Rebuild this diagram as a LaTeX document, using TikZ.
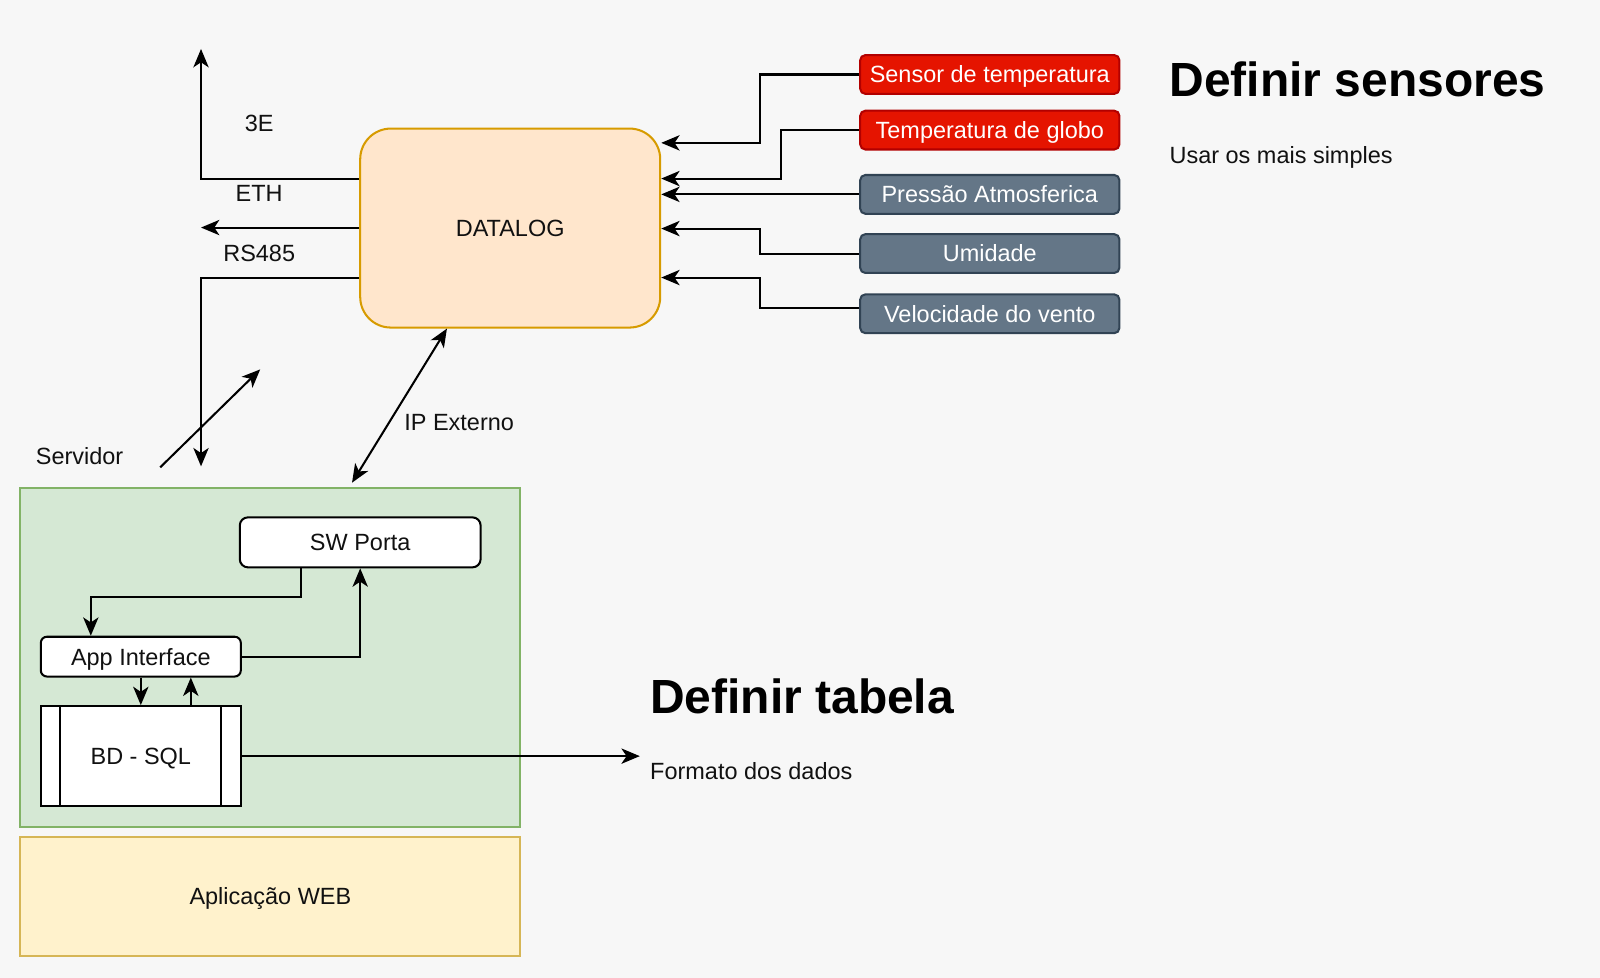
\documentclass[tikz,border=0pt]{standalone}
\usepackage{fontspec}
\setmainfont{Liberation Sans}
\usetikzlibrary{arrows.meta,calc}
\definecolor{bgc}{HTML}{F7F7F7}
\definecolor{dlf}{HTML}{FFE6CC}
\definecolor{dld}{HTML}{D79B00}
\definecolor{redf}{HTML}{E51400}
\definecolor{redd}{HTML}{B20000}
\definecolor{slf}{HTML}{647687}
\definecolor{sld}{HTML}{314354}
\definecolor{grf}{HTML}{D5E8D4}
\definecolor{grd}{HTML}{82B366}
\definecolor{yef}{HTML}{FFF2CC}
\definecolor{yed}{HTML}{D6B656}
\definecolor{txt}{HTML}{111111}
\begin{document}
\begin{tikzpicture}[x=1pt,y=-1pt,
  every node/.style={font=\fontsize{23}{27}\selectfont, text=txt, inner sep=0pt},
  boxtext/.style={text height=20.5pt, text depth=4pt},
  arr/.style={line width=2pt,-{Stealth[length=18pt,width=15pt,inset=5pt]}},
  dbl/.style={line width=2pt,{Stealth[length=18pt,width=15pt,inset=5pt]}-{Stealth[length=18pt,width=15pt,inset=5pt]}},
  sensbox/.style={boxtext, line width=2pt, rounded corners=5pt, minimum width=254pt, minimum height=38pt, text=white},
  redbox/.style={sensbox, draw=redd, fill=redf},
  slatebox/.style={sensbox, draw=sld, fill=slf},
  dlbox/.style={boxtext, draw=dld, fill=dlf, line width=2pt, rounded corners=30pt, minimum width=294pt, minimum height=195pt},
  whitebox/.style={boxtext, draw=black, fill=white, line width=2pt},
  title/.style={font=\fontsize{47}{52}\selectfont\bfseries, text=black, anchor=base west},
  note/.style={anchor=base west}
]
\fill[bgc] (0,0) rectangle (1568,958);
\useasboundingbox (0,0) rectangle (1568,958);

% DATALOG
\node[dlbox] (dl) at (500,223.5) {DATALOG};

% sensors
\node[redbox] (s1) at (970,73) {Sensor de temperatura};
\node[redbox] (s2) at (970,127.5) {Temperatura de globo};
\node[slatebox] (s3) at (970,190.5) {Pressão Atmosferica};
\node[slatebox] (s4) at (970,248.5) {Umidade};
\node[slatebox] (s5) at (970,307.5) {Velocidade do vento};

\draw[arr] (s1.west) -| (745,140) -- (dl.east |- 0,140);
\draw[arr] (s2.west) -| (765,175) -- (dl.east |- 0,175);
\draw[arr] (s3.west) -- (dl.east |- s3.west);
\draw[arr] (s4.west) -| (745,224) -- (dl.east |- 0,224);
\draw[arr] ([yshift=6pt]s5.west) -| (745,272) -- (dl.east |- 0,272);

% left outputs
\coordinate (e3) at (197,48);
\coordinate (eth) at (197,223);
\coordinate (rs) at (197,457);
\draw[arr] (dl.west |- 0,175) -| (e3);
\draw[arr] (dl.west |- 0,223) -- (eth);
\draw[arr] (dl.west |- 0,272) -| (rs);
\node[boxtext] (l3e) at (254,121) {3E};
\node[boxtext] (leth) at (254,189) {ETH};
\node[boxtext] (lrs) at (254,248) {RS485};

% Servidor arrow
\coordinate (sv1) at (157,458);
\coordinate (sv2) at (255,362);
\draw[arr] (sv1) -- (sv2);
\node[boxtext] (lsv) at (78,447) {Servidor};

% IP Externo
\coordinate (ip1) at (345,473);
\draw[dbl] (ip1) -- ([xshift=-62pt]dl.south);
\node[boxtext] (lip) at (450,414) {IP Externo};

% server box
\node[draw=grd, fill=grf, line width=2pt, minimum width=490pt, minimum height=332pt] (srv) at (265,644) {};
\node[boxtext, draw=yed, fill=yef, line width=2pt, minimum width=490pt, minimum height=117pt] (web) at (265,878.5) {Aplicação WEB};

\node[whitebox, rounded corners=8pt, minimum width=236pt, minimum height=49pt] (sw) at (353,531.5) {SW Porta};
\node[whitebox, rounded corners=6pt, minimum width=196pt, minimum height=39pt] (app) at (138,643.5) {App Interface};
\node[whitebox, minimum width=196pt, minimum height=98pt] (bd) at (138,741) {BD - SQL};
\draw[line width=2pt] ([xshift=20pt]bd.north west) -- ([xshift=20pt]bd.south west);
\draw[line width=2pt] ([xshift=-20pt]bd.north east) -- ([xshift=-20pt]bd.south east);

\draw[arr] ([xshift=-58pt]sw.south) |- (89,585) -- (app.north -| 89,0);
\draw[arr] (app.east) -| (sw.south);
\draw[arr] (app.south) -- (bd.north);
\draw[arr] ([xshift=49pt]bd.north) -- ([xshift=49pt]app.south);
\coordinate (fmt) at (627,741);
\draw[arr] (bd.east) -- (fmt);

% notes
\node[title] (t1) at (1146,95) {Definir sensores};
\node[note] (n1) at (1146,160) {Usar os mais simples};
\node[title] (t2) at (637,699) {Definir tabela};
\node[note] (n2) at (637,764) {Formato dos dados};
\end{tikzpicture}
\end{document}
